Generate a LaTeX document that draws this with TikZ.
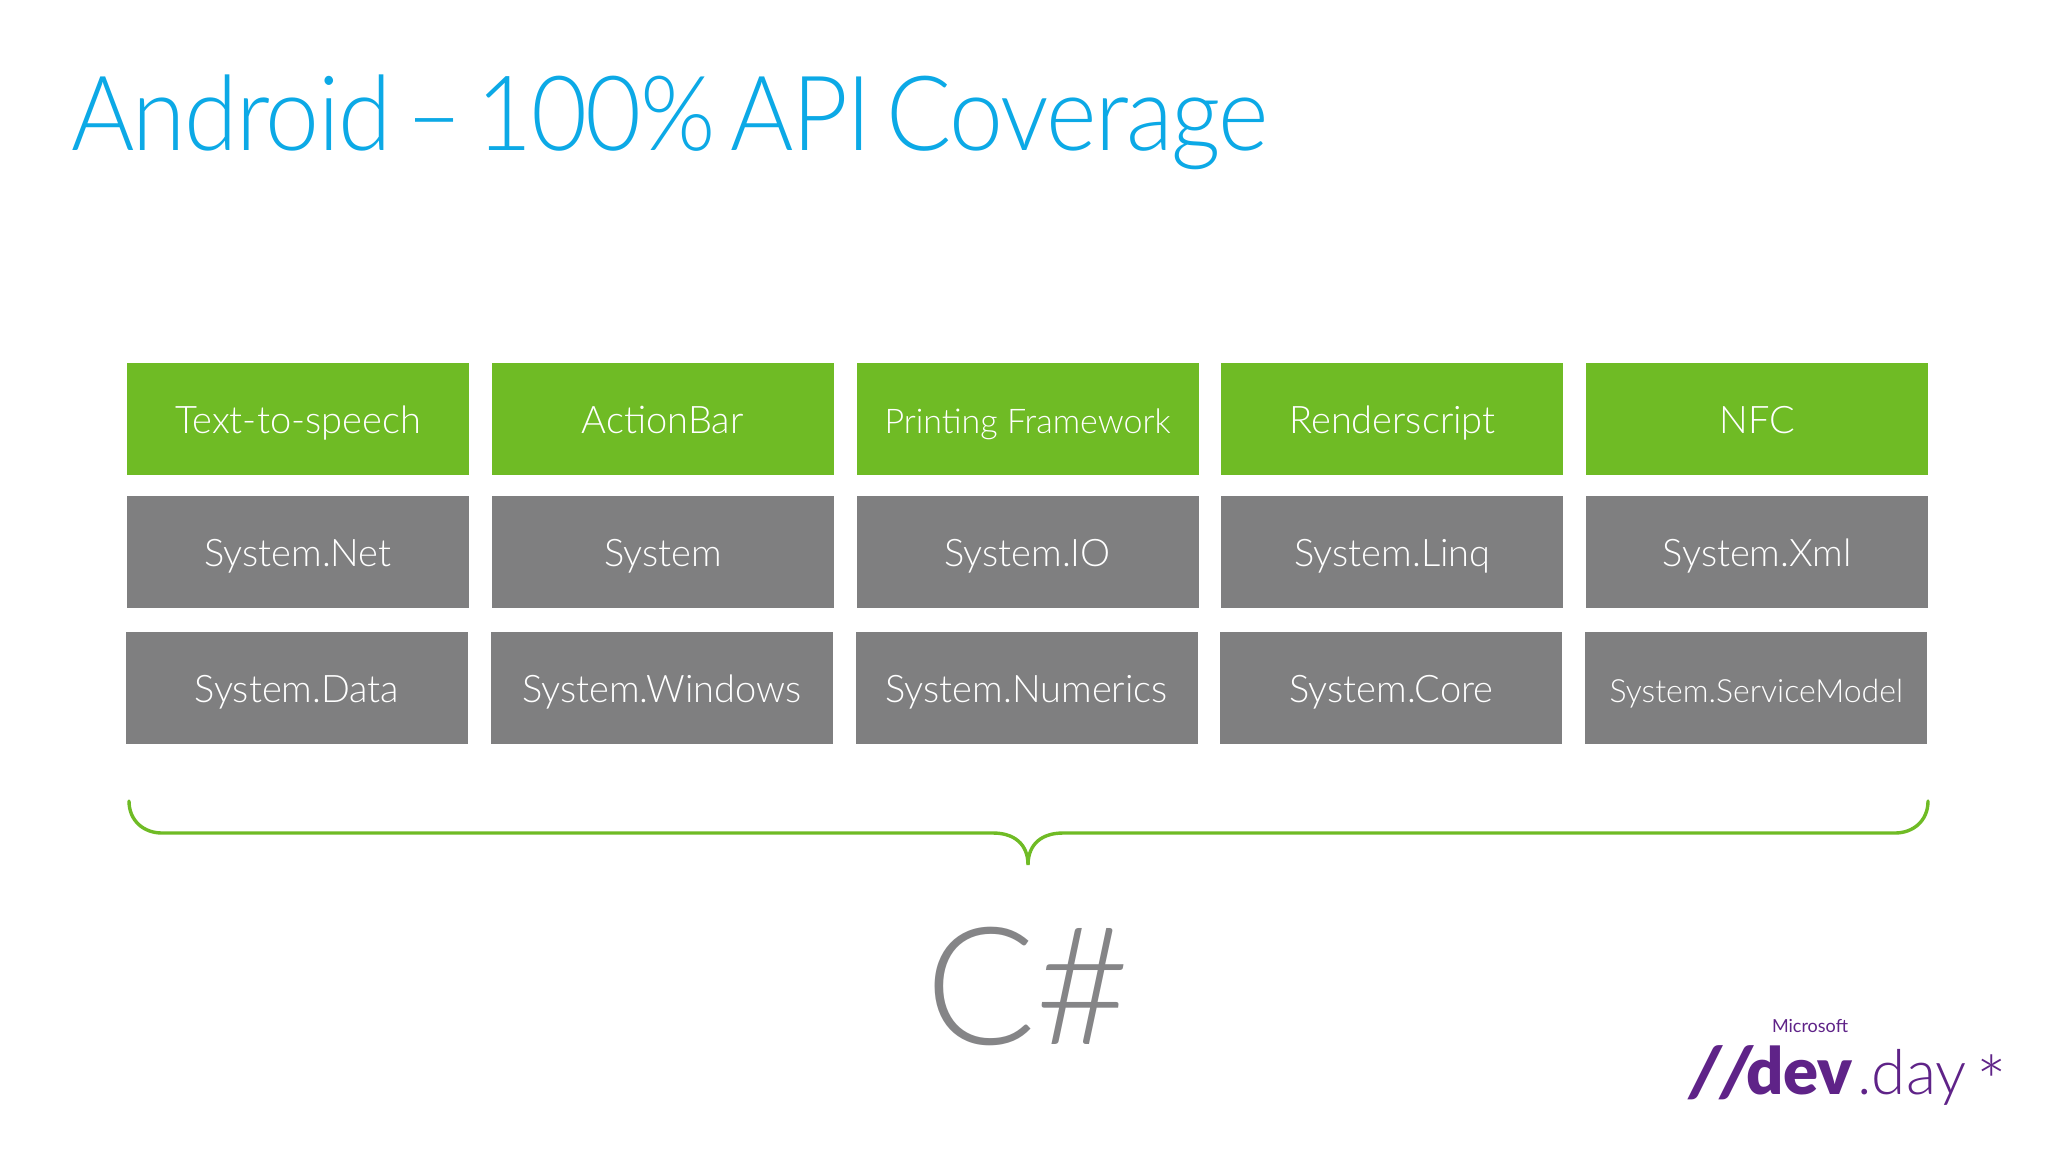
\documentclass[tikz,border=0pt]{standalone}
\usepackage{fontspec}
\setmainfont{Lato Light}
\newfontfamily\titlefont[FakeStretch=0.93,LetterSpace=-1.6,WordSpace=0.6]{Lato Light}
\newfontfamily\logobold{Lato Black}
\newfontfamily\logoslash[FakeSlant=0.12]{Lato Black}
\newfontfamily\logoname{Lato}
\usetikzlibrary{positioning}

\definecolor{titleblue}{HTML}{0CA9E6}
\definecolor{apigreen}{HTML}{6FBB25}
\definecolor{apigray}{HTML}{7F7F80}
\definecolor{sharpgray}{HTML}{858587}
\definecolor{logopurple}{HTML}{5F2388}

\tikzset{
  api/.style={minimum width=171pt, minimum height=56pt, inner sep=0pt, outer sep=0pt, text=white, text height=18pt, text depth=3.4pt, font=\fontsize{19}{22}\selectfont},
  newapi/.style={api, fill=apigreen},
  oldapi/.style={api, fill=apigray},
  lastapi/.style={oldapi, below=12pt of #1, xshift=-0.5pt},
  logo/.style={inner sep=0pt, outer sep=0pt, text=logopurple, anchor=base west},
}

\begin{document}
\begin{tikzpicture}[x=0.5pt, y=-0.5pt, node distance=10.5pt and 11.4pt]

      \useasboundingbox[fill=white] (0,0) rectangle (2048,1152);

      % Define nodes
      \node[anchor=base west, inner sep=0pt, text=titleblue, font=\titlefont\fontsize{52}{60}\selectfont] (title) at (71,150) {Android – 100\% API Coverage};

      \node[newapi, anchor=north west]   (speech) at (127,363) {Text-to-speech};
      \node[newapi, right=of speech]     (bar) {ActionBar};
      \node[newapi, right=of bar]        (print) {\fontsize{17}{20}\selectfont Printing Framework};
      \node[newapi, right=of print]      (render) {Renderscript};
      \node[newapi, right=of render]     (nfc) {NFC};

      \node[oldapi, below=of speech]     (net) {System.Net};
      \node[oldapi, below=of bar]        (sys) {System};
      \node[oldapi, below=of print]      (io) {System.IO};
      \node[oldapi, below=of render]     (linq) {System.Linq};
      \node[oldapi, below=of nfc]        (xml) {System.Xml};

      \node[lastapi=net]                 (data) {System.Data};
      \node[lastapi=sys]                 (win) {System.Windows};
      \node[lastapi=io]                  (num) {System.Numerics};
      \node[lastapi=linq]                (core) {System.Core};
      \node[lastapi=xml]                 (model) {\fontsize{16}{20}\selectfont System.ServiceModel};

      \coordinate (left-end) at (129,801);
      \coordinate (left-foot) at (162,833);
      \coordinate (notch-left) at (993,833);
      \coordinate (tip) at (1028,865);
      \coordinate (notch-right) at (1063,833);
      \coordinate (right-foot) at (1895,833);
      \coordinate (right-end) at (1928,801);

      \node[text=sharpgray, inner sep=0pt, font=\fontsize{82}{90}\selectfont, anchor=base] (sharp) at (1028,1044) {C\#};

      \node[logo, font=\logoslash\fontsize{34}{36}\selectfont] (slash) at (1686,1096) {/\kern-0.5pt/};
      \node[logo, font=\logobold\fontsize{32.5}{34}\selectfont] (dev) at (1746,1094) {dev};
      \node[logo, font=\fontsize{31}{34}\selectfont, xshift=2.5pt] (day) at (dev.base east) {.day};
      \node[logo, font=\fontsize{36}{38}\selectfont] (star) at (1976,1108) {*};
      \node[logo, font=\logoname\fontsize{9}{10}\selectfont] (ms) at (1772,1032) {Microsoft};

      % Connect the nodes
      \draw[apigreen, line width=1.7pt, line cap=round]
        (left-end) .. controls +(0,20) and +(-18,0) .. (left-foot) -- (notch-left)
        .. controls +(20,0) and +(0,-22) .. (tip) .. controls +(0,-22) and +(-20,0) .. (notch-right)
        -- (right-foot) .. controls +(18,0) and +(0,20) .. (right-end);

\end{tikzpicture}
\end{document}
